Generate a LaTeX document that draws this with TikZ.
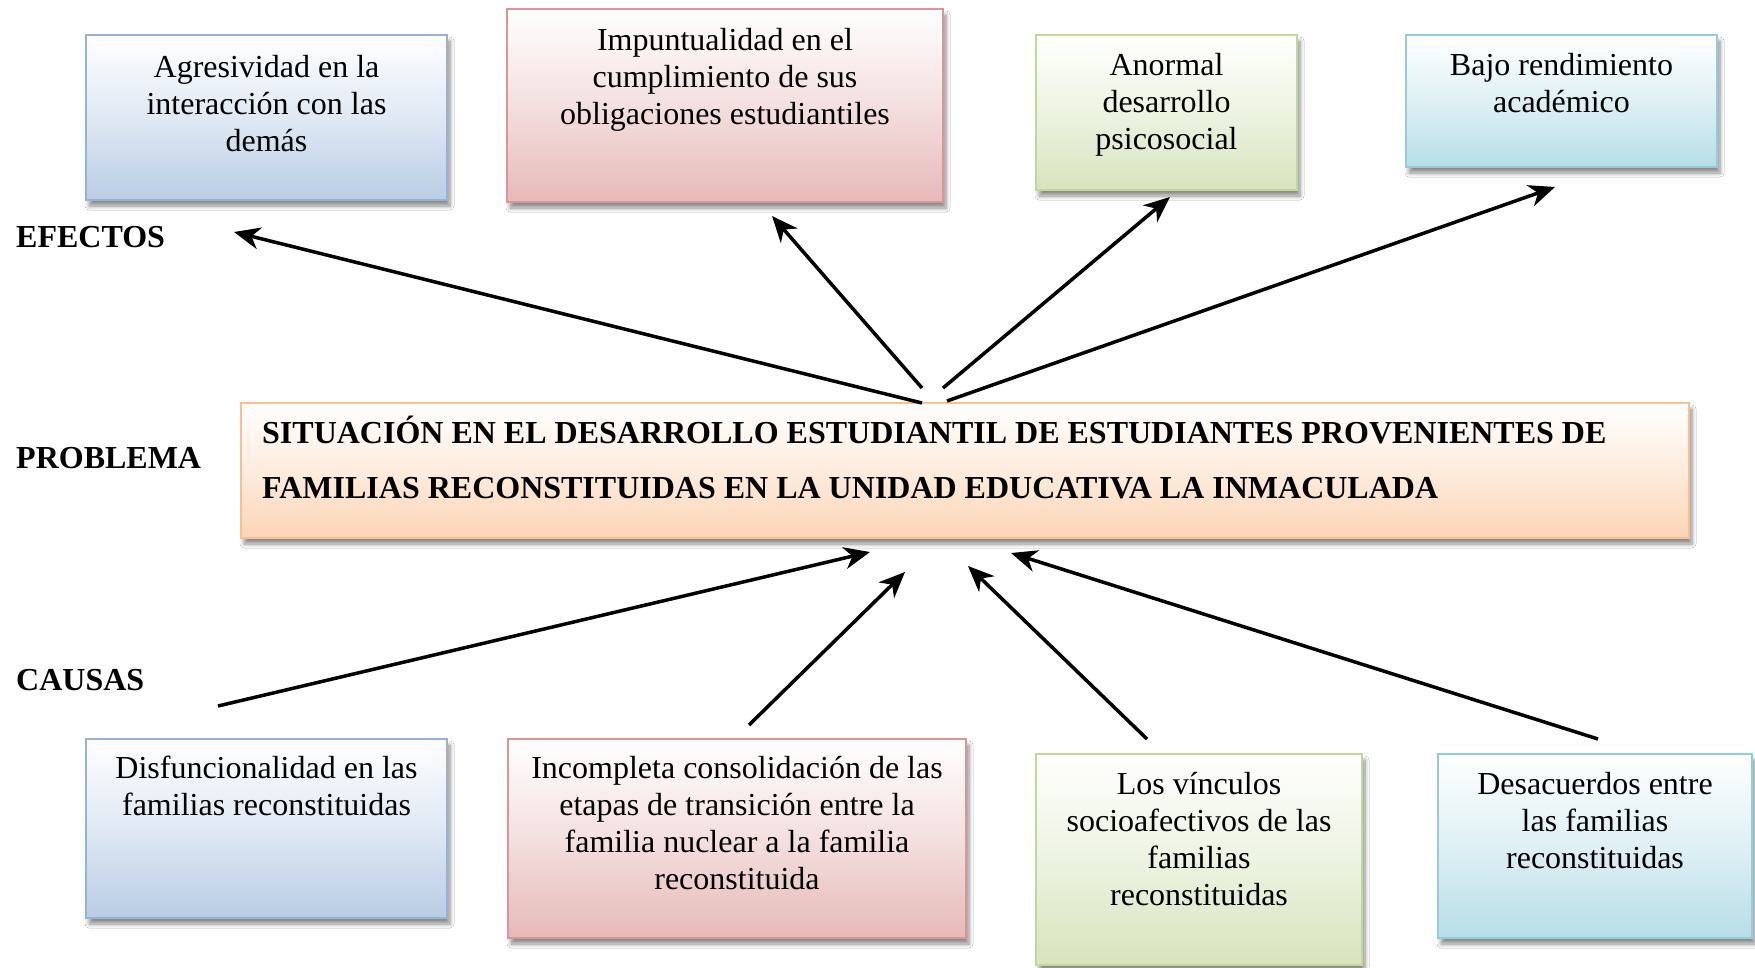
\documentclass[tikz,border=0pt]{standalone}
\usepackage{fontspec}
\setmainfont{Liberation Serif}
\usetikzlibrary{arrows.meta,shadows.blur}
\definecolor{bluef}{HTML}{B9CDE5}\definecolor{blued}{HTML}{95B3D7}
\definecolor{redf}{HTML}{E6B9B8}\definecolor{redd}{HTML}{D99694}
\definecolor{greenf}{HTML}{D7E4BD}\definecolor{greend}{HTML}{C3D69B}
\definecolor{cyanf}{HTML}{B7DEE8}\definecolor{cyand}{HTML}{93CDDD}
\definecolor{orangef}{HTML}{FCD5B5}\definecolor{oranged}{HTML}{FAC090}
\tikzset{
  boxbase/.style={rectangle, inner sep=0pt, line width=2.5pt,
    blur shadow={shadow xshift=3pt, shadow yshift=-6pt, shadow blur radius=4pt, shadow blur steps=6, shadow opacity=45}},
  bluebox/.style={boxbase, draw=blued, top color=white, bottom color=bluef, middle color=bluef!45},
  redbox/.style={boxbase, draw=redd, top color=white, bottom color=redf, middle color=redf!45},
  greenbox/.style={boxbase, draw=greend, top color=white, bottom color=greenf, middle color=greenf!45},
  cyanbox/.style={boxbase, draw=cyand, top color=white, bottom color=cyanf, middle color=cyanf!45},
  orangebox/.style={boxbase, draw=oranged, top color=white, bottom color=orangef, middle color=orangef!45},
  txt/.style={inner sep=0pt, align=center, anchor=north, font=\fontsize{32}{37}\selectfont},
  lbl/.style={inner sep=0pt, anchor=base west, font=\fontsize{32}{37}\selectfont\bfseries},
  arr/.style={line width=3.5pt, -{Stealth[length=26pt,width=22pt,inset=8pt]}}
}
\begin{document}
\begin{tikzpicture}[x=1pt,y=-1pt]
\useasboundingbox (0,0) rectangle (1755,967);
\fill[white] (0,0) rectangle (1755,967);
% effect boxes
\node[bluebox, minimum width=361pt, minimum height=165pt] (e1) at (266.5,117.5) {};
\node[redbox, minimum width=436pt, minimum height=193pt] (e2) at (725,105.5) {};
\node[greenbox, minimum width=261pt, minimum height=155pt] (e3) at (1166.5,112.5) {};
\node[cyanbox, minimum width=311pt, minimum height=132pt] (e4) at (1561.5,101) {};
% problem box
\node[orangebox, minimum width=1448pt, minimum height=135pt] (p) at (965,470.5) {};
% cause boxes
\node[bluebox, minimum width=361pt, minimum height=179pt] (c1) at (266.5,828.5) {};
\node[redbox, minimum width=458pt, minimum height=199pt] (c2) at (737,838.5) {};
\node[greenbox, minimum width=326pt, minimum height=211pt] (c3) at (1199,859.5) {};
\node[cyanbox, minimum width=314pt, minimum height=184pt] (c4) at (1595,846) {};
% texts
\node[txt] (te1) at (266.5,51) {\strut Agresividad en la\\interacción con las\\demás};
\node[txt] (te2) at (725,24) {\strut Impuntualidad en el\\cumplimiento de sus\\obligaciones estudiantiles};
\node[txt] (te3) at (1166.5,49) {\strut Anormal\\desarrollo\\psicosocial};
\node[txt] (te4) at (1561.5,49) {\strut Bajo rendimiento\\académico};
\node[inner sep=0pt, anchor=north west, align=left, font=\fontsize{32}{55}\selectfont\bfseries] (tp) at (262,404.5)
  {\strut SITUACIÓN EN EL DESARROLLO ESTUDIANTIL DE ESTUDIANTES PROVENIENTES DE\\FAMILIAS RECONSTITUIDAS EN LA UNIDAD EDUCATIVA LA INMACULADA};
\node[txt] (tc1) at (266.5,752) {\strut Disfuncionalidad en las\\familias reconstituidas};
\node[txt] (tc2) at (737,752) {\strut Incompleta consolidación de las\\etapas de transición entre la\\familia nuclear a la familia\\reconstituida};
\node[txt] (tc3) at (1199,768.5) {\strut Los vínculos\\socioafectivos de las\\familias\\reconstituidas};
\node[txt] (tc4) at (1595,768) {\strut Desacuerdos entre\\las familias\\reconstituidas};
% side labels
\node[lbl] (lef) at (16,247) {EFECTOS};
\node[lbl] (lpr) at (16,468) {PROBLEMA};
\node[lbl] (lca) at (16,690) {CAUSAS};
% arrow coordinates
\coordinate (s1) at (922,403); \coordinate (t1) at (234,232);
\coordinate (s2) at (922,388); \coordinate (t2) at (772,216);
\coordinate (s3) at (943,388); \coordinate (t3) at (1170,197);
\coordinate (s4) at (947,401); \coordinate (t4) at (1555,187);
\coordinate (u1) at (218,706); \coordinate (v1) at (870,552);
\coordinate (u2) at (749,725); \coordinate (v2) at (905,572);
\coordinate (u3) at (1147,739); \coordinate (v3) at (968,566);
\coordinate (u4) at (1598,739); \coordinate (v4) at (1011,553);
\draw[arr] (s1) -- (t1);
\draw[arr] (s2) -- (t2);
\draw[arr] (s3) -- (t3);
\draw[arr] (s4) -- (t4);
\draw[arr] (u1) -- (v1);
\draw[arr] (u2) -- (v2);
\draw[arr] (u3) -- (v3);
\draw[arr] (u4) -- (v4);
\end{tikzpicture}
\end{document}
